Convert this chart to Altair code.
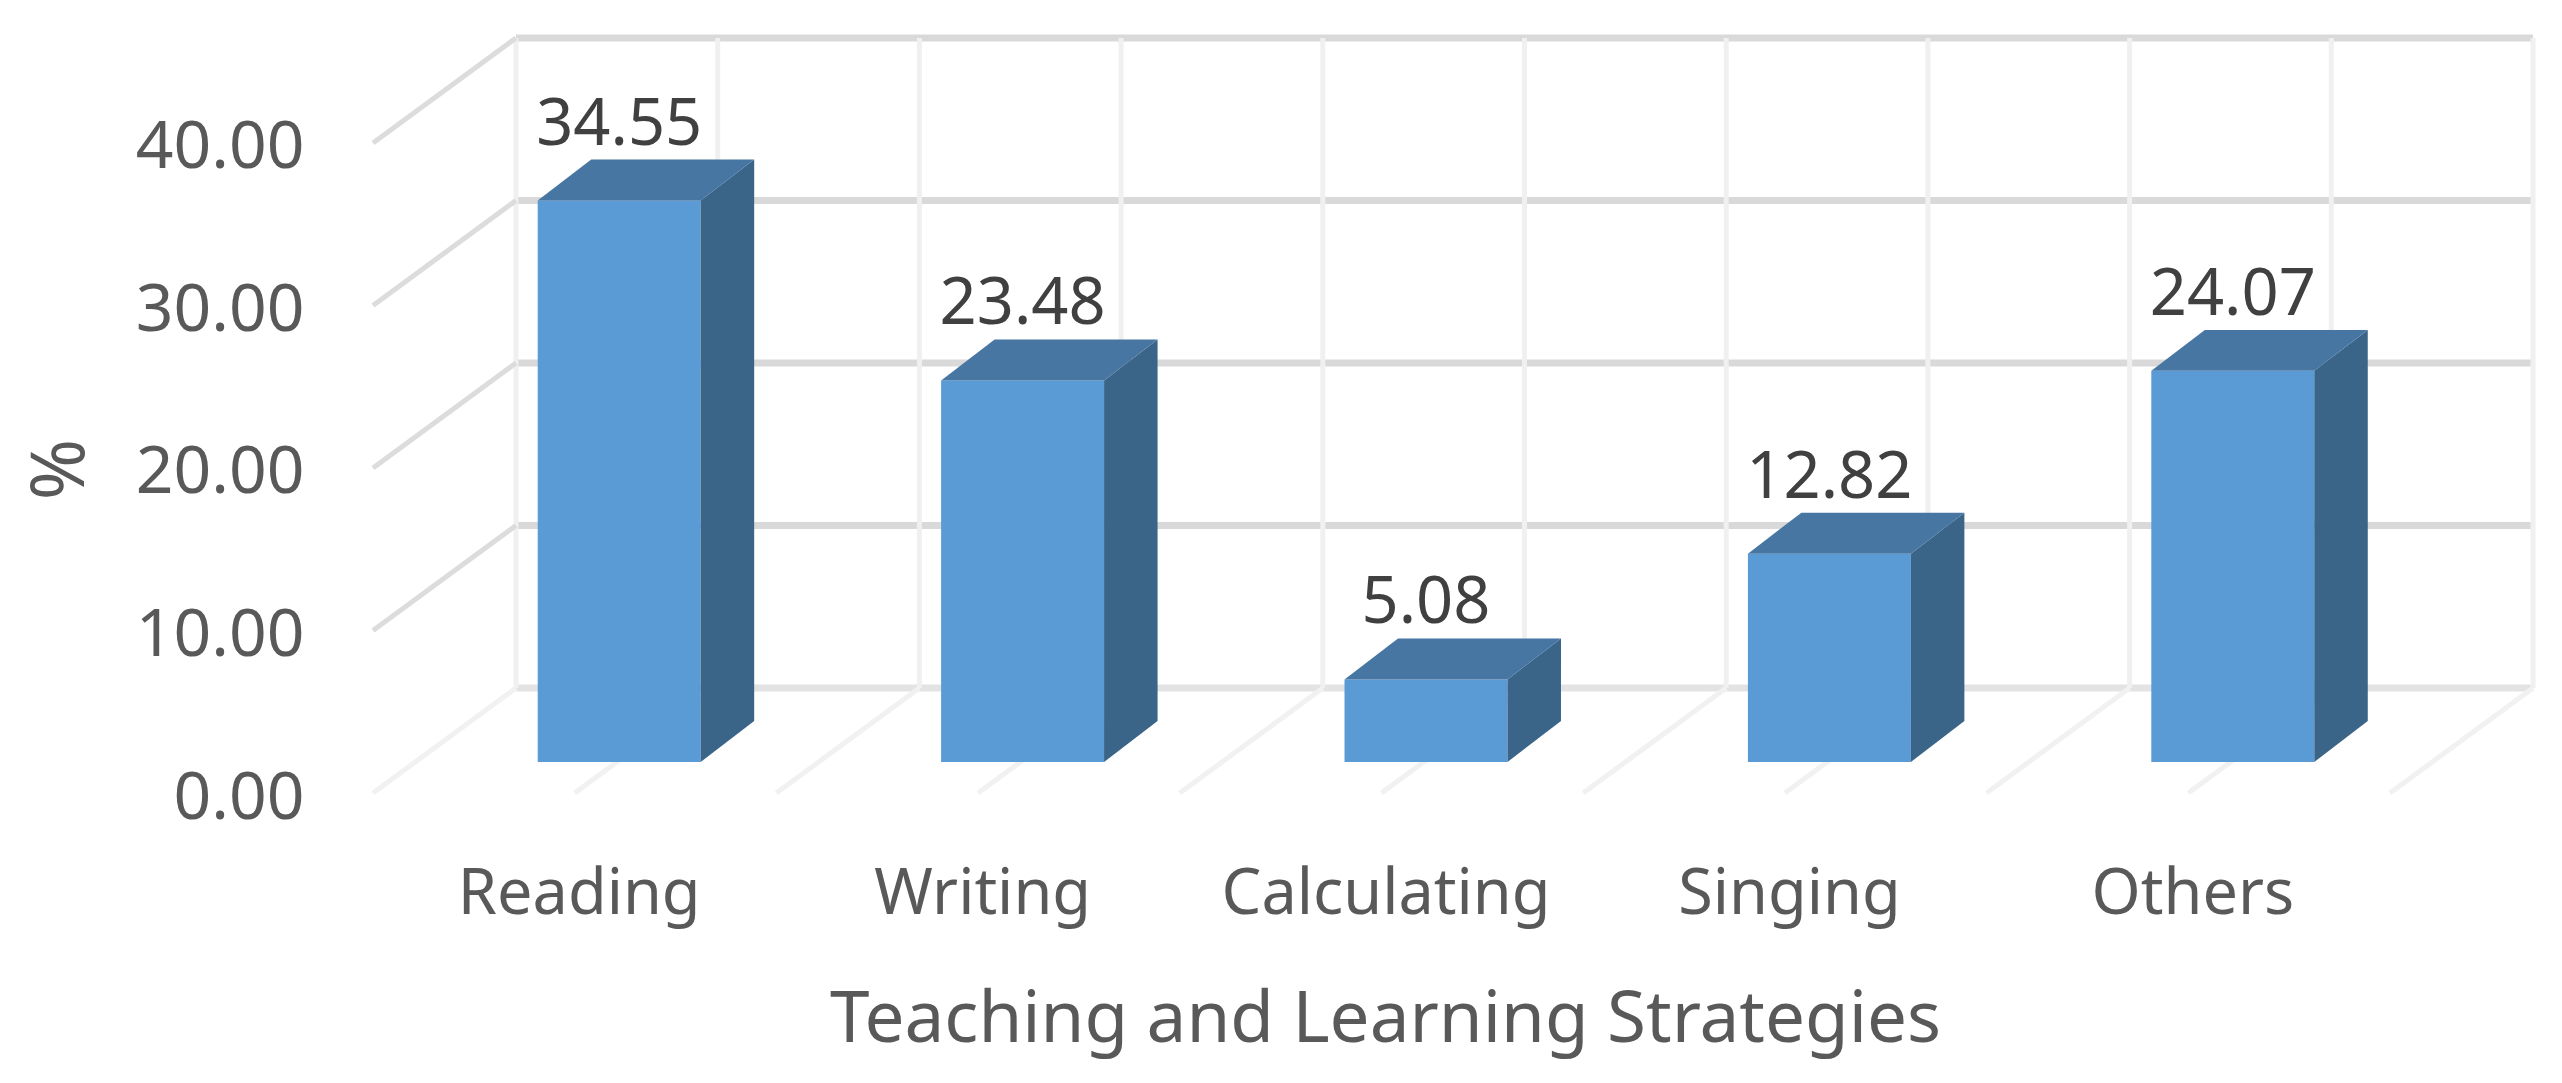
import altair as alt
import pandas as pd

# ---- values ----
categories = ["Reading", "Writing", "Calculating", "Singing", "Others"]
percent = [34.55, 23.48, 5.08, 12.82, 24.07]
y_ticks = [0, 10, 20, 30, 40]

# ---- geometry of the pseudo-3D box, in data units ----
WALL_DX, WALL_DY = 0.3545, 6.46      # front plane -> back wall
BAR_SHIFT_X, BAR_SHIFT_Y = 0.1103, 1.908  # front plane -> bar front face
BAR_DX, BAR_DY = 0.1326, 2.52        # bar depth
BAR_HALF = 0.202
GRID_STEP = 0.5
N = len(categories)

FONT = "Noto Sans"
x_scale = alt.Scale(domain=[0, 2165 / 403.4], nice=False, zero=False)
y_scale = alt.Scale(domain=[0, 46.46], nice=False, zero=False)
X = lambda f="x", **k: alt.X(f"{f}:Q", scale=x_scale, axis=None, **k)
Y = lambda f="y", **k: alt.Y(f"{f}:Q", scale=y_scale, axis=None, **k)
X2 = alt.X2("x2:Q")
Y2 = alt.Y2("y2:Q")


def rules(frame, color, width):
    return alt.Chart(pd.DataFrame(frame)).mark_rule(color=color, strokeWidth=width).encode(
        x=X(), x2=X2, y=Y(), y2=Y2
    )


wall_xs = [WALL_DX + k * GRID_STEP for k in range(2 * N + 1)]
right = wall_xs[-1]

back_h = rules(
    [{"x": WALL_DX, "x2": right, "y": t + WALL_DY, "y2": t + WALL_DY} for t in y_ticks if t > 0],
    "#d9d9d9", 7,
)
back_h0 = rules([{"x": WALL_DX, "x2": right, "y": WALL_DY, "y2": WALL_DY}], "#e3e3e3", 7)
back_v = rules(
    [{"x": w, "x2": w, "y": WALL_DY, "y2": y_ticks[-1] + WALL_DY} for w in wall_xs],
    "#f0f0f0", 5,
)
side_grid = rules(
    [{"x": 0, "x2": WALL_DX, "y": t, "y2": t + WALL_DY} for t in y_ticks if t > 0],
    "#dcdcdc", 5,
)
floor_grid = rules(
    [{"x": w - WALL_DX, "x2": w, "y": 0, "y2": WALL_DY} for w in wall_xs],
    "#f1f1f1", 5,
)

front_rows, side_rows, top_rows, label_rows = [], [], [], []
for i, (c, v) in enumerate(zip(categories, percent)):
    mid = i + 0.5 + BAR_SHIFT_X
    x0, x1 = mid - BAR_HALF, mid + BAR_HALF
    base = BAR_SHIFT_Y
    top = v + BAR_SHIFT_Y
    front_rows.append({"c": c, "x": x0, "x2": x1, "y": base, "y2": top})
    side_rows += [
        {"c": c, "x": x1, "y": base, "y2": top},
        {"c": c, "x": x1 + BAR_DX, "y": base + BAR_DY, "y2": top + BAR_DY},
    ]
    top_rows += [
        {"c": c, "x": x0, "y": top, "y2": top},
        {"c": c, "x": x0 + BAR_DX, "y": top, "y2": top + BAR_DY},
        {"c": c, "x": x1, "y": top, "y2": top + BAR_DY},
        {"c": c, "x": x1 + BAR_DX, "y": top + BAR_DY, "y2": top + BAR_DY},
    ]
    label_rows.append({"x": mid, "y": top + BAR_DY, "v": v})

front = alt.Chart(pd.DataFrame(front_rows)).mark_rect(color="#5b9bd5").encode(
    x=X(), x2=X2, y=Y(), y2=Y2
)
side = alt.Chart(pd.DataFrame(side_rows)).mark_area(color="#3a6488", orient="vertical").encode(
    x=X(), y=Y(), y2=Y2, detail="c:N"
)
cap = alt.Chart(pd.DataFrame(top_rows)).mark_area(color="#4776a3", orient="vertical").encode(
    x=X(), y=Y(), y2=Y2, detail="c:N"
)
labels = alt.Chart(pd.DataFrame(label_rows)).mark_text(
    font=FONT, fontSize=65, color="#404040", baseline="alphabetic", dy=-15
).encode(x=X(), y=Y(), text=alt.Text("v:Q", format=".2f"))

label_expr = "[" + ",".join(f"'{c}'" for c in categories) + "][floor(datum.value)]"
axes = alt.Chart(pd.DataFrame({"x": [0.5], "y": [0]})).mark_point(opacity=0).encode(
    x=alt.X(
        "x:Q", scale=x_scale,
        axis=alt.Axis(
            values=[i + 0.5 for i in range(N)], labelExpr=label_expr, grid=False, domain=False,
            ticks=False, labelFont=FONT, labelFontSize=63, labelColor="#595959",
            labelPadding=70, labelAngle=0, labelAlign="center", labelFlush=False,
            labelOverlap=False, labelLimit=1000, labelOffset=4,
            title="Teaching and Learning Strategies",
            titleFont=FONT, titleFontSize=71, titleFontWeight="normal", titleColor="#595959",
            titleX=1012, titleY=248, titleAlign="center", titleBaseline="alphabetic",
        ),
    ),
    y=alt.Y(
        "y:Q", scale=y_scale,
        axis=alt.Axis(
            values=y_ticks, format=".2f", grid=False, domain=False, ticks=False,
            labelFont=FONT, labelFontSize=66, labelColor="#595959", labelPadding=69,
            labelFlush=False, labelOverlap=False, labelLimit=1000, labelOffset=5, title="%",
            titleFont=FONT, titleFontSize=74, titleFontWeight="normal", titleColor="#595959",
            titleX=-290, titleY=431, titleAlign="center", titleBaseline="alphabetic",
            titleAngle=270,
        ),
    ),
)

chart = alt.layer(
    axes, back_h0, back_h, back_v, side_grid, floor_grid, front, side, cap, labels
).resolve_axis(x="independent", y="independent").properties(
    width=2165,
    height=755,
    autosize=alt.AutoSizeParams(type="none"),
    padding={"left": 365, "top": 30, "right": 10, "bottom": 270},
).configure_view(stroke=None)

chart.save("out.html", embed_options={"renderer": "svg", "actions": False})
